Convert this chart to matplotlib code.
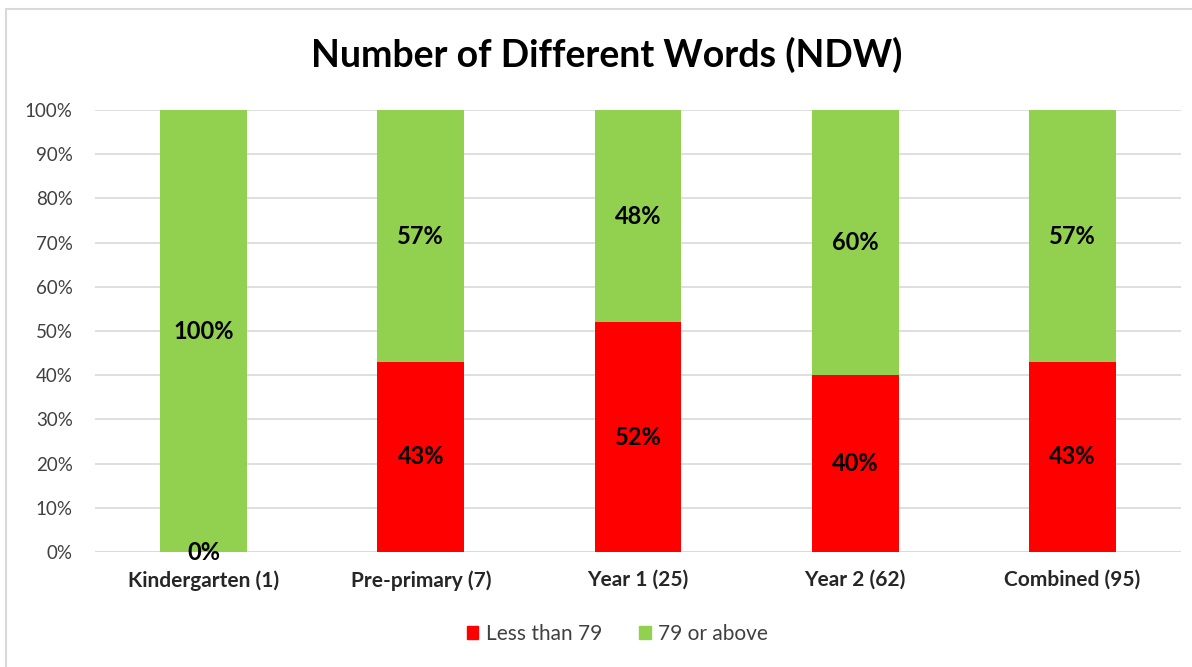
import matplotlib.pyplot as plt
import matplotlib.patches as mpatches
import numpy as np

plt.rcParams['font.family'] = ['Lato', 'DejaVu Sans']

categories = ['Kindergarten (1)', 'Pre-primary (7)', 'Year 1 (25)', 'Year 2 (62)', 'Combined (95)']
less_than_79 = [0, 43, 52, 40, 43]
above_79 = [100, 57, 48, 60, 57]

RED = '#FF0000'
GREEN = '#92D050'

fig = plt.figure(figsize=(11.92, 6.67), dpi=100)
ax = fig.add_axes([0.0797, 0.1724, 0.9111, 0.6626])

x = np.arange(len(categories))
width = 0.4
ax.bar(x, less_than_79, width, color=RED, label='Less than 79', zorder=3)
ax.bar(x, above_79, width, bottom=less_than_79, color=GREEN, label='79 or above', zorder=3)

# value labels in the middle of each segment
for i in range(len(categories)):
    lo = less_than_79[i]
    hi = above_79[i]
    if i > 0 or lo == 0:
        ax.text(x[i], lo / 2, f'{lo}%', ha='center', va='center',
                fontsize=17, fontweight='bold', color='black', zorder=4)
    ax.text(x[i], lo + hi / 2, f'{hi}%', ha='center', va='center',
            fontsize=17, fontweight='bold', color='black', zorder=4)

ax.set_xlim(-0.5, len(categories) - 0.5)
ax.set_ylim(0, 100)
ax.set_yticks(np.arange(0, 101, 10))
ax.set_yticklabels([f'{v}%' for v in range(0, 101, 10)], fontsize=13.5, color='#404040')
ax.set_xticks(x)
ax.set_xticklabels(categories, fontsize=15, fontweight='bold', color='#262626')
ax.tick_params(axis='both', length=0)
ax.tick_params(axis='y', pad=16)
ax.tick_params(axis='x', pad=13)
ax.grid(axis='y', color='#D9D9D9', linewidth=1.2, zorder=0)
for s in ax.spines.values():
    s.set_visible(False)
ax.axhline(0, color='#D9D9D9', linewidth=1.2, zorder=2)

fig.text(0.509, 0.917, 'Number of Different Words (NDW)', ha='center', va='center',
         fontsize=27, fontweight='bold', color='black')

handles = [mpatches.Patch(color=RED, label='Less than 79'),
           mpatches.Patch(color=GREEN, label='79 or above')]
fig.legend(handles=handles, loc='center', bbox_to_anchor=(0.518, 0.05), ncol=2,
           frameon=False, fontsize=15, handlelength=0.55, handleheight=0.55,
           columnspacing=1.8, handletextpad=0.35, labelcolor='#404040')

# outer chart border
fig.add_artist(mpatches.Rectangle((6 / 1192, -0.1), 1.2, 1 - 9 / 667 + 0.1,
                                  transform=fig.transFigure, fill=False,
                                  edgecolor='#D9D9D9', linewidth=1.5))

fig.savefig('out.png', dpi=100)
